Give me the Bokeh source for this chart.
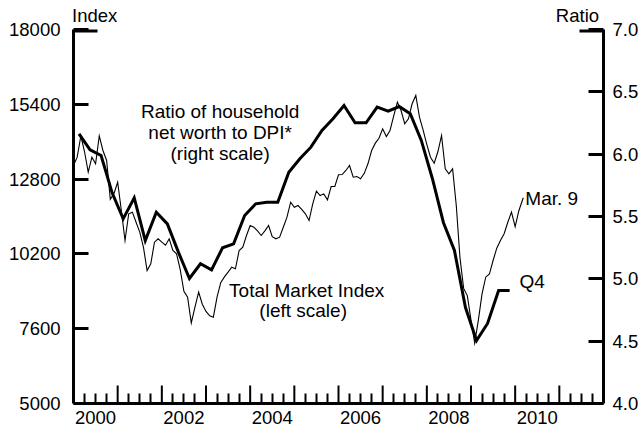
from datetime import date

from bokeh.plotting import figure
from bokeh.models import (Range1d, LinearAxis, FixedTicker, PrintfTickFormatter, Label)
from bokeh.embed import file_html
from bokeh.resources import INLINE

FONT = "Liberation Sans"
TICK_FS = "18.5px"
TEXT_FS = "19px"

# ---------------- data ----------------
# Total Market Index (left scale), monthly, Jan 2000 .. Feb 2010
market_2000 = [13273, 13561, 14300, 13750, 13040, 13561, 13333, 14300, 13794, 13447, 12100, 12300]
market_2001 = [12692, 11709, 10666, 11594, 11650, 11302, 10955, 10433, 9623, 9856, 10607, 10725]
market_2002 = [10607, 10500, 10725, 10318, 10203, 9650, 8900, 8695, 7800, 8350, 8869, 8450]
market_2003 = [8200, 8050, 8000, 8700, 9200, 9400, 9564, 9738, 9682, 10318, 10433, 10840]
market_2004 = [11187, 11128, 11000, 10840, 11000, 11187, 10800, 10725, 10782, 11128, 11476, 11997]
market_2005 = [11823, 11882, 11750, 11594, 11361, 11940, 12380, 12230, 12287, 12080, 12543, 12543]
market_2006 = [12950, 12960, 13100, 13273, 12866, 12890, 12810, 13000, 13332, 13794, 14050, 14220]
market_2007 = [14548, 14281, 14490, 15000, 15473, 15185, 14722, 14896, 15418, 15706, 14953, 14500]
market_2008 = [14000, 13561, 13350, 13750, 14316, 13158, 12984, 13158, 11884, 10072, 9000, 8750]
market_2009 = [7900, 7100, 7900, 8813, 9391, 9500, 9970, 10400, 10666, 10900, 11300, 11650]
market_2010 = [11150, 11700]
market_last_date = date(2010, 3, 9)
market_last_value = 12150

# Ratio of household net worth to DPI (right scale), quarterly 2000Q1 .. 2009Q4
ratio_values = [
    6.163, 6.035, 5.989, 5.690,
    5.481, 5.650, 5.307, 5.534,
    5.441, 5.214, 5.003, 5.121,
    5.072, 5.249, 5.281, 5.508,
    5.602, 5.615, 5.615, 5.855,
    5.963, 6.056, 6.190, 6.284,
    6.390, 6.252, 6.252, 6.377,
    6.345, 6.382, 6.324, 6.110,
    5.805, 5.452, 5.227, 4.770,
    4.505, 4.642, 4.906, 4.906,
]
ratio_start_year = 2000

left_ticks = [5000, 7600, 10200, 12800, 15400, 18000]
right_ticks = [4.0, 4.5, 5.0, 5.5, 6.0, 6.5, 7.0]
year_labels = ["2000", "2002", "2004", "2006", "2008", "2010"]
x_start, x_end = 2000, 2012

# ---------------- layout constants (pixels) ----------------
W, H = 642, 431
B_LEFT, B_RIGHT, B_TOP, B_BOTTOM = 73, 39, 29, 28
FRAME_W = W - B_LEFT - B_RIGHT
FRAME_H = H - B_TOP - B_BOTTOM
YEAR_TICK_PX = 18
CAP_PX = 24

# ---------------- derived positions ----------------
market_values = (market_2000 + market_2001 + market_2002 + market_2003 + market_2004 +
                 market_2005 + market_2006 + market_2007 + market_2008 + market_2009 + market_2010)
market_x = [2000 + i / 12 for i in range(len(market_values))]
last_x = market_last_date.year + (market_last_date - date(market_last_date.year, 1, 1)).days / 365
market_x.append(last_x)
market_values = market_values + [market_last_value]

ratio_x = [ratio_start_year + 0.125 + 0.25 * i for i in range(len(ratio_values))]

y0, y1 = left_ticks[0], left_ticks[-1]
px_per_x = FRAME_W / (x_end - x_start)
px_per_y = FRAME_H / (y1 - y0)

# ---------------- figure ----------------
p = figure(width=W, height=H,
           x_range=Range1d(x_start, x_end), y_range=Range1d(y0, y1),
           output_backend="svg", toolbar_location=None,
           min_border_left=B_LEFT, min_border_right=B_RIGHT,
           min_border_top=B_TOP, min_border_bottom=B_BOTTOM,
           outline_line_color=None, background_fill_color="white", border_fill_color="white")
p.grid.grid_line_color = None
p.extra_y_ranges = {"ratio": Range1d(right_ticks[0], right_ticks[-1])}

# left axis
ya = p.yaxis[0]
ya.ticker = FixedTicker(ticks=left_ticks, minor_ticks=[])
ya.major_tick_in = 15
ya.major_tick_out = 0
ya.minor_tick_in = 0
ya.minor_tick_out = 0
ya.axis_line_width = 3
ya.major_tick_line_width = 3
ya.major_label_standoff = 13
ya.major_label_text_font = FONT
ya.major_label_text_font_size = TICK_FS
ya.major_label_text_color = "black"

# right axis
ra = LinearAxis(y_range_name="ratio",
                ticker=FixedTicker(ticks=right_ticks, minor_ticks=[]),
                formatter=PrintfTickFormatter(format="%.1f"))
ra.major_tick_in = 15
ra.major_tick_out = 0
ra.minor_tick_in = 0
ra.minor_tick_out = 0
ra.axis_line_width = 3
ra.major_tick_line_width = 3
ra.major_label_standoff = 9
ra.major_label_text_font = FONT
ra.major_label_text_font_size = TICK_FS
ra.major_label_text_color = "black"
p.add_layout(ra, "right")

# bottom axis: year labels centred in the year, quarter tick marks
label_pos = [int(y) + 0.5 for y in year_labels]
year_starts = list(range(x_start, x_end + 1))
quarter_marks = [y + q * 0.25 for y in range(x_start, x_end) for q in (1, 2, 3)]
xa = p.xaxis[0]
xa.ticker = FixedTicker(ticks=label_pos, minor_ticks=quarter_marks)
xa.major_label_overrides = {pos: txt for pos, txt in zip(label_pos, year_labels)}
xa.major_tick_line_color = None
xa.major_tick_in = 0
xa.major_tick_out = 0
xa.minor_tick_in = 10
xa.minor_tick_out = 0
xa.minor_tick_line_width = 2
xa.axis_line_width = 3
xa.major_label_standoff = 7
xa.major_label_text_font = FONT
xa.major_label_text_font_size = TICK_FS
xa.major_label_text_color = "black"

# longer year tick marks
inner_years = year_starts[1:-1]
year_tick_len = YEAR_TICK_PX / px_per_y
p.segment(x0=inner_years, y0=[y0] * len(inner_years),
          x1=inner_years, y1=[y0 + year_tick_len] * len(inner_years),
          line_width=2, line_color="black")

# longer caps at the top of both scales
cap_len = CAP_PX / px_per_x
p.segment(x0=[x_start, x_end - cap_len], y0=[y1, y1], x1=[x_start + cap_len, x_end], y1=[y1, y1],
          line_width=6, line_color="black")

# axis titles above the frame
ta = LinearAxis(ticker=FixedTicker(ticks=[x_start + 0.48, x_end - 0.59], minor_ticks=[]),
                major_label_overrides={x_start + 0.48: "Index", x_end - 0.59: "Ratio"})
ta.axis_line_color = None
ta.major_tick_line_color = None
ta.minor_tick_line_color = None
ta.major_tick_in = 0
ta.major_tick_out = 0
ta.major_label_standoff = 4
ta.major_label_text_font = FONT
ta.major_label_text_font_size = TICK_FS
ta.major_label_text_color = "black"
p.add_layout(ta, "above")

# series
p.line(market_x, market_values, line_width=1.1, line_color="black", line_join="miter")
p.line(ratio_x, ratio_values, line_width=3, line_color="black", line_join="miter",
       y_range_name="ratio")

# texts
def lab(x, y, text, align="center"):
    p.add_layout(Label(x=x, y=y, text=text, text_font=FONT, text_font_size=TEXT_FS,
                       text_color="black", text_align=align, text_baseline="middle"))

lab(2003.32, 15150, "Ratio of household")
lab(2003.32, 14430, "net worth to DPI*")
lab(2003.32, 13700, "(right scale)")
lab(2005.28, 8928, "Total Market Index")
lab(2005.20, 8233, "(left scale)")
lab(2010.23, 12126, "Mar. 9", align="left")
lab(2010.10, 9251, "Q4", align="left")

open("out.html", "w").write(file_html(p, INLINE))
